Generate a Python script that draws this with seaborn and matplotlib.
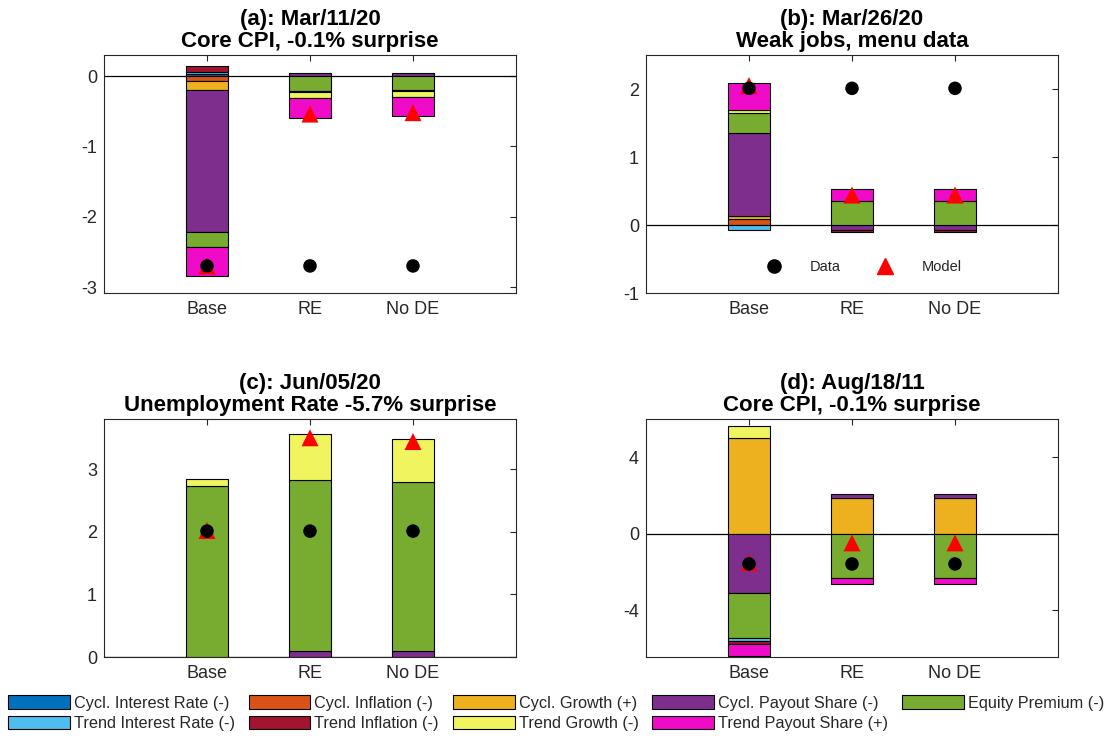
import numpy as np
import pandas as pd
import seaborn as sns
import matplotlib
matplotlib.use("Agg")
import matplotlib.pyplot as plt
from matplotlib.patches import Patch
from matplotlib.lines import Line2D

# ---------------- data ----------------
scenarios = ["Base", "RE", "No DE"]
panel_titles = ["(a): Mar/11/20\nCore CPI, -0.1% surprise",
                "(b): Mar/26/20\nWeak jobs, menu data",
                "(c): Jun/05/20\nUnemployment Rate -5.7% surprise",
                "(d): Aug/18/11\nCore CPI, -0.1% surprise"]

component_names = ["Cycl. Interest Rate (-)", "Cycl. Inflation (-)", "Cycl. Growth (+)",
                   "Cycl. Payout Share (-)", "Equity Premium (-)", "Trend Interest Rate (-)",
                   "Trend Inflation (-)", "Trend Growth (-)", "Trend Payout Share (+)"]

# each list: panel a (Base, RE, No DE), panel b, panel c, panel d
cycl_ir      = [0.028, 0, 0,      0, 0, 0,            0, 0, 0,          0, 0, 0]
cycl_infl    = [-0.076, 0, 0,     0.088, 0, 0,        0, 0, 0,          0, 0, 0]
cycl_growth  = [-0.123, 0, 0,     0.049, 0, 0,        0, 0, 0,          5.02, 1.90, 1.90]
cycl_payout  = [-2.014, 0.038, 0.038, 1.221, -0.075, -0.075, 0, 0.10, 0.10, -3.07, 0.16, 0.16]
equity_prem  = [-0.223, -0.209, -0.199, 0.294, 0.353, 0.353, 2.73, 2.73, 2.69, -2.38, -2.33, -2.33]
trend_ir     = [0.028, 0, 0,      -0.07, 0, 0,        0, 0, 0,          -0.14, 0, 0]
trend_infl   = [0.085, -0.02, -0.02, 0, -0.025, -0.025, 0, 0, 0,        -0.18, 0, 0]
trend_growth = [0, -0.085, -0.08, 0.039, 0, 0,        0.11, 0.73, 0.69, 0.627, 0, 0]
trend_payout = [-0.408, -0.275, -0.275, 0.392, 0.176, 0.176, 0, 0, 0,   -0.62, -0.30, -0.30]

data_pts  = [-2.70, -2.70, -2.70, 2.01, 2.01, 2.01, 2.01, 2.01, 2.01, -1.57, -1.57, -1.57]
model_pts = [-2.70, -0.54, -0.52, 2.05, 0.44, 0.44, 2.02, 3.50, 3.44, -1.50, -0.47, -0.47]

y_limits = [(-3.085, 0.3), (-1, 2.5), (0, 3.8), (-6.43, 6)]
y_ticks = [[-3, -2, -1, 0], [-1, 0, 1, 2], [0, 1, 2, 3], [-4, 0, 4]]

colors = ["#0072BD", "#D95319", "#EDB120", "#7E2F8E", "#77AC30",
          "#4DBEEE", "#A2142F", "#F0F55F", "#EF0BC8"]

components = [cycl_ir, cycl_infl, cycl_growth, cycl_payout, equity_prem,
              trend_ir, trend_infl, trend_growth, trend_payout]

# ---------------- style ----------------
sns.set_theme(style="white")
plt.rcParams["font.family"] = ["Liberation Sans", "DejaVu Sans"]
plt.rcParams["axes.unicode_minus"] = False
plt.rcParams["xtick.direction"] = "in"
plt.rcParams["ytick.direction"] = "in"

fig = plt.figure(figsize=(11.12, 7.36), dpi=100)
W, H = 1112, 736
boxes = [(104, 55), (646, 55), (104, 419), (646, 419)]
aw, ah = 412, 238

spine_col = "#262626"
x = np.arange(1, 4)

for p in range(4):
    left, top = boxes[p]
    ax = fig.add_axes([left / W, 1 - (top + ah) / H, aw / W, ah / H])
    pos_bottom = np.zeros(3)
    neg_bottom = np.zeros(3)
    for ci, comp in enumerate(components):
        vals = np.array(comp[p * 3:p * 3 + 3], dtype=float)
        bottoms = np.where(vals >= 0, pos_bottom, neg_bottom)
        mask = vals != 0
        if mask.any():
            ax.bar(x[mask], vals[mask], bottom=bottoms[mask], width=0.4,
                   color=colors[ci], edgecolor="black", linewidth=0.8, zorder=2)
        pos_bottom = pos_bottom + np.where(vals > 0, vals, 0)
        neg_bottom = neg_bottom + np.where(vals < 0, vals, 0)

    ax.axhline(0, color="black", linewidth=0.9, zorder=1.5)

    pts = pd.DataFrame({"x": x,
                        "data": data_pts[p * 3:p * 3 + 3],
                        "model": model_pts[p * 3:p * 3 + 3]})
    sns.scatterplot(data=pts, x="x", y="model", marker="^", s=150, color="red",
                    edgecolor="none", linewidth=0, ax=ax, zorder=3, legend=False)
    sns.scatterplot(data=pts, x="x", y="data", marker="o", s=95, color="black",
                    edgecolor="none", linewidth=0, ax=ax, zorder=4, legend=False)

    ax.set_xlim(0, 4)
    ax.set_ylim(*y_limits[p])
    ax.set_xticks(x)
    ax.set_xticklabels(scenarios)
    ax.set_yticks(y_ticks[p])
    ax.set_yticklabels([str(t) for t in y_ticks[p]])
    ax.set_xlabel("")
    ax.set_ylabel("")
    ax.tick_params(axis="both", labelsize=13, colors=spine_col, length=4, width=0.8,
                   top=True, right=True, pad=5)
    ax.tick_params(axis="x", pad=6)
    for s in ax.spines.values():
        s.set_visible(True)
        s.set_color(spine_col)
        s.set_linewidth(0.8)
    ax.set_title(panel_titles[p], fontsize=16, fontweight="bold", pad=6,
                 linespacing=1.05, color="black")

    if p == 1:
        hd = [Line2D([], [], marker="o", color="black", linestyle="none", markersize=9.5),
              Line2D([], [], marker="^", color="red", linestyle="none", markersize=11.5)]
        ax.legend(hd, ["Data", "Model"], loc="lower center", ncol=2, frameon=False,
                  fontsize=10.5, bbox_to_anchor=(0.52, 0.025), columnspacing=2.0,
                  handletextpad=1.5)

# bottom legend: ordered so columns read Cycl (top row) / Trend (bottom row)
order = [0, 5, 1, 6, 2, 7, 3, 8, 4]
handles = [Patch(facecolor=colors[i], edgecolor="black", linewidth=0.8) for i in order]
labels = [component_names[i] for i in order]
fig.legend(handles, labels, loc="lower center", ncol=5, frameon=False,
           fontsize=11.7, bbox_to_anchor=(0.5, -0.013), handlelength=3.8,
           handleheight=0.9, handletextpad=0.25, columnspacing=0.85,
           labelspacing=0.3)

fig.savefig("out.png", dpi=100)
